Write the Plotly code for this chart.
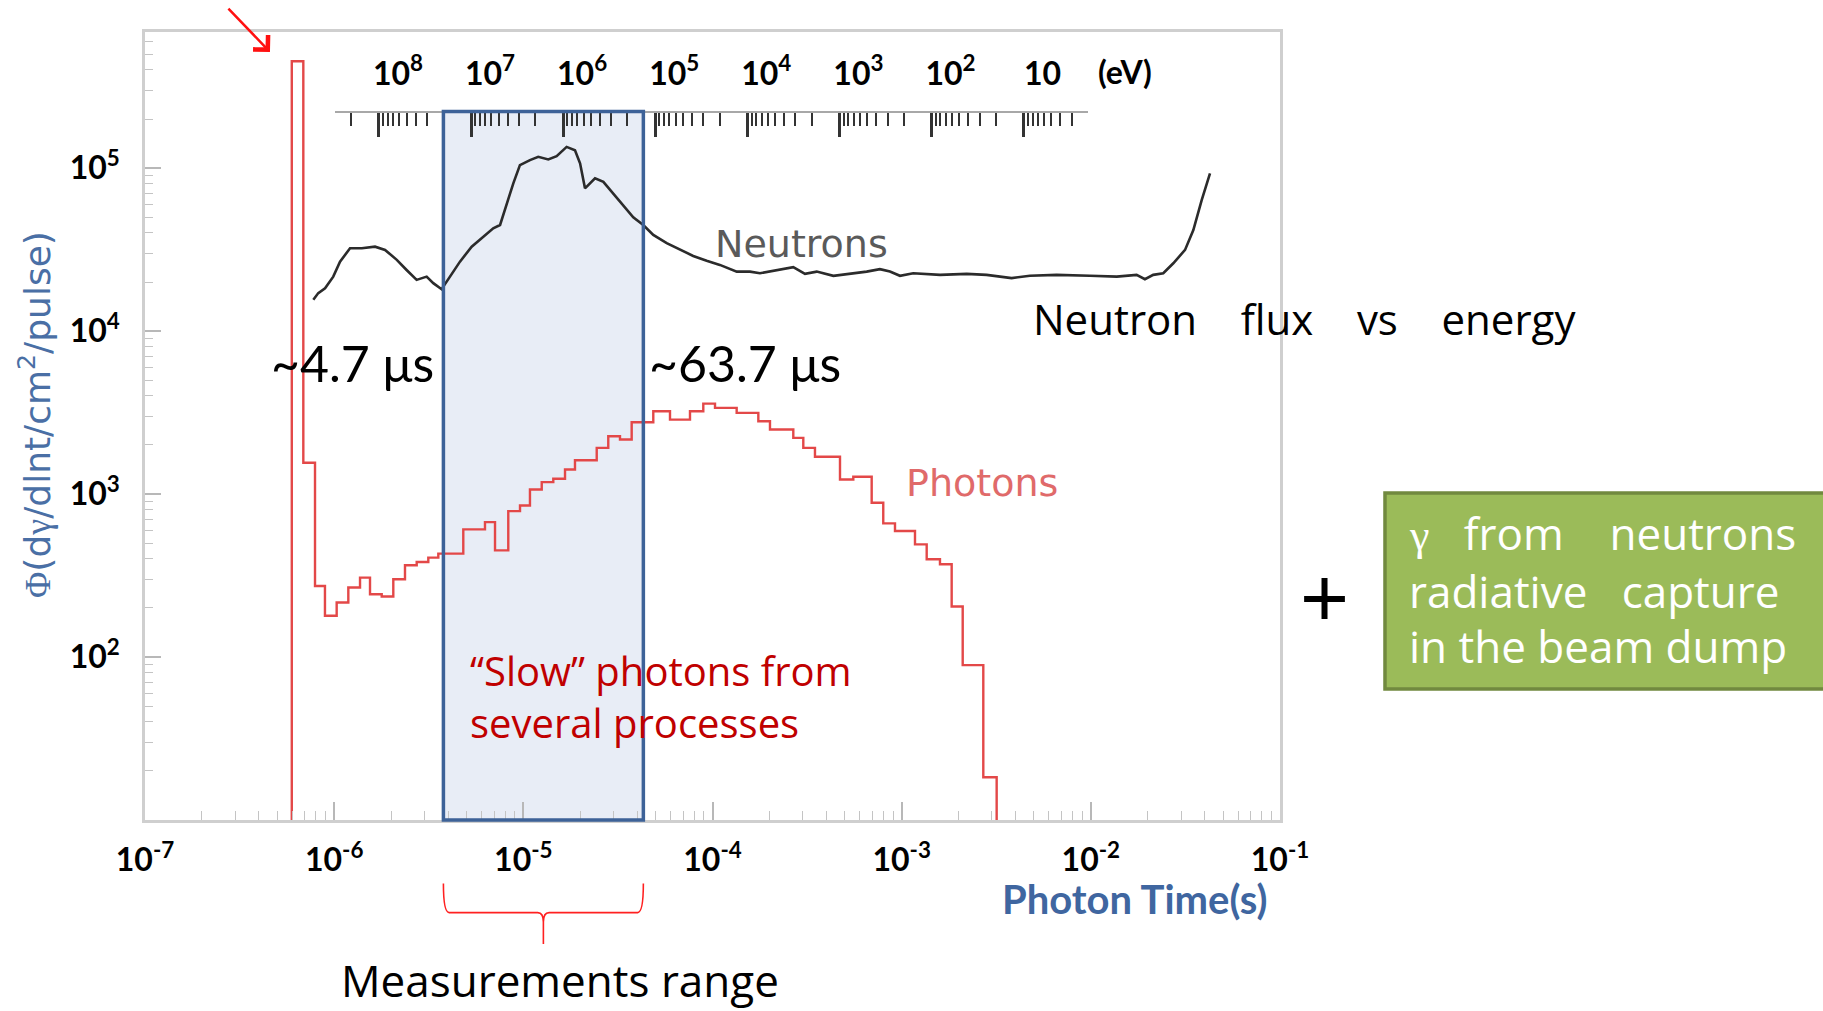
import math
import plotly.graph_objects as go

# ---------------- data ----------------
# Neutron flux vs photon time
neutron_time = [7.76e-7, 8.24e-7, 8.95e-7, 9.89e-7, 1.074e-6, 1.213e-6, 1.400e-6, 1.644e-6, 1.858e-6,
                2.143e-6, 2.415e-6, 2.729e-6, 3.083e-6, 3.342e-6, 3.698e-6, 4.093e-6, 4.624e-6, 5.333e-6,
                6.138e-6, 6.934e-6, 7.534e-6, 8.166e-6, 8.851e-6, 9.594e-6, 1.084e-5, 1.199e-5, 1.355e-5,
                1.500e-5, 1.694e-5, 1.875e-5, 1.995e-5, 2.118e-5, 2.393e-5, 2.649e-5, 2.992e-5, 3.373e-5,
                3.811e-5, 4.305e-5, 4.864e-5, 5.728e-5, 6.730e-5, 7.907e-5, 9.311e-5, 1.094e-4, 1.343e-4,
                1.578e-4, 1.782e-4, 2.275e-4, 2.673e-4, 3.083e-4, 3.556e-4, 4.355e-4, 5.333e-4, 6.531e-4,
                7.674e-4, 8.670e-4, 9.795e-4, 1.151e-3, 1.596e-3, 2.208e-3, 2.812e-3, 3.811e-3, 4.764e-3,
                6.592e-3, 9.886e-3, 1.371e-2, 1.746e-2, 1.932e-2, 2.138e-2, 2.415e-2, 2.729e-2, 3.148e-2,
                3.483e-2, 3.855e-2, 4.266e-2]
neutron_flux = [15560, 17100, 18320, 21580, 26670, 32210, 32210, 32960, 31480,
                27350, 23710, 20610, 21580, 19680, 18070, 21580, 26670, 32960,
                37930, 42760, 44770, 60810, 80540, 104200, 111900, 117200, 113000,
                118300, 134900, 128800, 106900, 75160, 86500, 82410, 69980, 59290,
                49890, 44770, 38900, 34590, 31770, 28910, 26980, 25470, 23170,
                23170, 22650, 23710, 24660, 22440, 23170, 21830, 22440, 23170,
                23990, 23170, 21830, 22650, 22130, 22440, 22130, 21130, 21830,
                22130, 21830, 21580, 22130, 20800, 22130, 22650, 26060, 31480,
                41690, 63680, 92900]

# Photon histogram: bin edges (s) and bin contents
photon_edges = [5.97e-7, 6.87e-7, 7.92e-7, 8.94e-7, 1.031e-6, 1.188e-6, 1.370e-6, 1.547e-6, 1.784e-6,
                2.054e-6, 2.368e-6, 2.731e-6, 3.145e-6, 3.553e-6, 4.815e-6, 6.270e-6, 7.085e-6, 8.326e-6,
                9.603e-6, 1.084e-5, 1.251e-5, 1.440e-5, 1.661e-5, 1.875e-5, 2.443e-5, 2.812e-5, 3.243e-5,
                3.739e-5, 4.864e-5, 5.961e-5, 7.603e-5, 8.940e-5, 1.031e-4, 1.342e-4, 1.747e-4, 2.013e-4,
                2.674e-4, 3.020e-4, 3.481e-4, 4.721e-4, 5.550e-4, 6.942e-4, 7.993e-4, 9.219e-4, 1.176e-3,
                1.356e-3, 1.594e-3, 1.838e-3, 2.102e-3, 2.701e-3, 3.178e-3]
photon_flux = [4.52e5, 1555, 273, 179, 216, 267, 307, 243, 235, 300,
               366, 383, 407, 431, 607, 673, 451, 786, 851, 1067,
               1183, 1241, 1415, 1613, 1921, 2262, 2160, 2756, 3218, 2863,
               3218, 3587, 3377, 3147, 2795, 2487, 2212, 1921, 1692, 1229,
               1276, 885, 661, 593, 491, 398, 371, 204, 89.2, 18.3]
photon_floor = 1.0

# Measurement window (s)
meas_range = [3.78e-6, 4.31e-5]

# Axes
time_range = [1e-7, 1e-1]
flux_range = [1e1, 6.84e5]
time_ticks = [1e-7, 1e-6, 1e-5, 1e-4, 1e-3, 1e-2, 1e-1]
time_labels = ["10<sup>-7</sup>", "10<sup>-6</sup>", "10<sup>-5</sup>", "10<sup>-4</sup>",
               "10<sup>-3</sup>", "10<sup>-2</sup>", "10<sup>-1</sup>"]
flux_ticks = [1e2, 1e3, 1e4, 1e5]
flux_labels = ["10<sup>2</sup>", "10<sup>3</sup>", "10<sup>4</sup>", "10<sup>5</sup>"]
energy_ticks = [1e8, 1e7, 1e6, 1e5, 1e4, 1e3, 1e2, 1e1]
energy_labels = ["10<sup>8</sup>", "10<sup>7</sup>", "10<sup>6</sup>", "10<sup>5</sup>",
                 "10<sup>4</sup>", "10<sup>3</sup>", "10<sup>2</sup>", "10"]
energy_span = [3e8, 2.0]

assert len(neutron_time) == len(neutron_flux)
assert len(photon_edges) == len(photon_flux) + 1

# ---------------- figure ----------------
fig = go.Figure()
fig.add_trace(go.Scatter(
    x=neutron_time, y=neutron_flux, mode="lines",
    line=dict(color="#2b2b2b", width=2.6), name="Neutrons", hoverinfo="skip"))
fig.add_trace(go.Scatter(
    x=[photon_edges[0]] + photon_edges,
    y=[photon_floor] + photon_flux + [photon_floor],
    mode="lines", line=dict(color="#e34848", width=2.4, shape="hv"),
    name="Photons", hoverinfo="skip"))
# empty trace so that the neutron-energy scale gets its own axis
fig.add_trace(go.Scatter(x=[], y=[], xaxis="x2", yaxis="y", mode="lines",
                         showlegend=False, hoverinfo="skip"))

tick_font = dict(family="Lato", size=32, color="black", weight="bold")
frame = "#cfcfcf"

fig.update_layout(
    width=1823, height=1011,
    margin=dict(l=145, r=543, t=32, b=191),
    paper_bgcolor="white", plot_bgcolor="rgba(0,0,0,0)",
    showlegend=False,
    xaxis=dict(type="log", range=[math.log10(v) for v in time_range],
               tickmode="array", tickvals=time_ticks, ticktext=time_labels,
               ticks="inside", ticklen=18, tickwidth=1.5, tickcolor="#b8b8b8",
               minor=dict(ticks="inside", ticklen=9, tickwidth=1, tickcolor="#c4c4c4", dtick="D1"),
               showline=True, linecolor=frame, linewidth=2.5, mirror=True,
               showgrid=False, zeroline=False, tickfont=tick_font, ticklabelstandoff=10),
    yaxis=dict(type="log", range=[math.log10(v) for v in flux_range],
               tickmode="array", tickvals=flux_ticks, ticktext=flux_labels,
               ticks="inside", ticklen=16, tickwidth=1.5, tickcolor="#b8b8b8",
               minor=dict(ticks="inside", ticklen=8, tickwidth=1, tickcolor="#c4c4c4", dtick="D1"),
               showline=True, linecolor=frame, linewidth=2.5, mirror=True,
               showgrid=False, zeroline=False, tickfont=tick_font, ticklabelstandoff=16),
    xaxis2=dict(type="log", anchor="free", position=0.899, side="top",
                domain=[0.1674, 0.8308],
                range=[math.log10(v) for v in energy_span],
                tickmode="array", tickvals=energy_ticks, ticktext=energy_labels,
                ticks="inside", ticklen=24, tickwidth=2.5, tickcolor="#333333",
                minor=dict(ticks="inside", ticklen=13, tickwidth=1.8, tickcolor="#333333", dtick="D1"),
                showline=True, linecolor="#a8a8a8", linewidth=2,
                showgrid=False, zeroline=False, tickfont=tick_font,
                ticklabelstandoff=13, ticklabelshift=-19),
)

# measurement window: shaded box + outline
box_top = 0.899
fig.add_shape(type="rect", xref="x", yref="paper",
              x0=meas_range[0], x1=meas_range[1], y0=0, y1=box_top,
              fillcolor="#e8edf6", line=dict(width=0), layer="below")
fig.add_shape(type="rect", xref="x", yref="paper",
              x0=meas_range[0], x1=meas_range[1], y0=0, y1=box_top,
              fillcolor="rgba(0,0,0,0)", line=dict(color="#3d6298", width=3.5), layer="above")

# curly brace under the measurement window
x0, x1 = meas_range
xc = math.sqrt(x0 * x1)
k = 10 ** 0.03
y_top, y_mid, y_bot = -0.0807, -0.1175, -0.1574
y_b1 = y_mid - 0.012
brace = (f"M{x0:.6e},{y_top} Q{x0:.6e},{y_mid} {x0*k:.6e},{y_mid} "
         f"L{xc/k:.6e},{y_mid} Q{xc:.6e},{y_mid} {xc:.6e},{y_b1} L{xc:.6e},{y_bot} "
         f"M{xc:.6e},{y_b1} Q{xc:.6e},{y_mid} {xc*k:.6e},{y_mid} "
         f"L{x1/k:.6e},{y_mid} Q{x1:.6e},{y_mid} {x1:.6e},{y_top}")
fig.add_shape(type="path", xref="x", yref="paper", path=brace,
              line=dict(color="#ff2020", width=1.6))

# green box on the right
fig.add_shape(type="rect", xref="paper", yref="paper",
              x0=1.0925, x1=1.49, y0=0.1662, y1=0.415,
              fillcolor="#9bbb59", line=dict(color="#71893f", width=3.5))

nb = "\u00a0"
serif = "font-family:'Liberation Serif','DejaVu Serif',serif"
gamma = f"<span style=\"{serif}\">γ</span>"
phi = f"<span style=\"{serif}\">Φ</span>"
ann = [
    dict(text="~4.7 μs", x=0.2564, y=0.5799, xanchor="right", yanchor="middle",
         font=dict(family="Lato", size=50, color="black")),
    dict(text="~63.7 μs", x=0.4423, y=0.5799, xanchor="left", yanchor="middle",
         font=dict(family="Lato", size=50, color="black")),
    dict(text=f"Neutron{nb*4}flux{nb*4}vs{nb*4}energy", x=0.7806, y=0.6358,
         xanchor="left", yanchor="middle",
         font=dict(family="Open Sans", size=42, color="black")),
    dict(text="Neutrons", x=0.578, y=0.731, xanchor="center", yanchor="middle",
         font=dict(family="DejaVu Sans", size=38, color="#5a5a5a")),
    dict(text="Photons", x=0.7373, y=0.4277, xanchor="center", yanchor="middle",
         font=dict(family="DejaVu Sans", size=38, color="#e06a6a")),
    dict(text="“Slow” photons from<br>several processes", x=0.2850, y=0.1561,
         xanchor="left", yanchor="middle", align="left",
         font=dict(family="Open Sans", size=40, color="#c00000")),
    dict(text="+", x=1.0396, y=0.2836, xanchor="center", yanchor="middle",
         font=dict(family="Liberation Sans", size=84, color="black")),
    dict(text=f"{gamma}{nb*3}from{nb*4}neutrons", x=1.1119, y=0.3648, xanchor="left", yanchor="middle",
         font=dict(family="Open Sans", size=44, color="white")),
    dict(text=f"radiative{nb*3}capture", x=1.1119, y=0.2911, xanchor="left", yanchor="middle",
         font=dict(family="Open Sans", size=44, color="white")),
    dict(text="in the beam dump", x=1.1119, y=0.2203, xanchor="left", yanchor="middle",
         font=dict(family="Open Sans", size=44, color="white")),
    dict(text="Photon Time(s)", x=0.8722, y=-0.0999, xanchor="center", yanchor="middle",
         font=dict(family="Lato", size=40, color="#3f66a0", weight="bold")),
    dict(text="Measurements range", x=0.3656, y=-0.2035, xanchor="center", yanchor="middle",
         font=dict(family="Open Sans", size=44, color="black")),
    dict(text=f"{phi}(d{gamma}/dlnt/cm<sup>2</sup>/pulse)", x=-0.0969, y=0.514, textangle=-90,
         xanchor="center", yanchor="middle",
         font=dict(family="DejaVu Sans", size=36, color="#4a6fa5")),
    dict(text="(eV)", x=0.8634, y=0.950, xanchor="center", yanchor="middle",
         font=tick_font),
]
for a in ann:
    fig.add_annotation(xref="paper", yref="paper", showarrow=False, **a)

# red arrow pointing at the prompt photon flash
fig.add_annotation(xref="paper", yref="paper", x=0.1101, y=0.9746, ax=-43, ay=-45,
                   text="", showarrow=True, arrowhead=4, arrowsize=1.6, arrowwidth=2.5,
                   arrowcolor="#ff1010")

fig.write_html("out.html")
